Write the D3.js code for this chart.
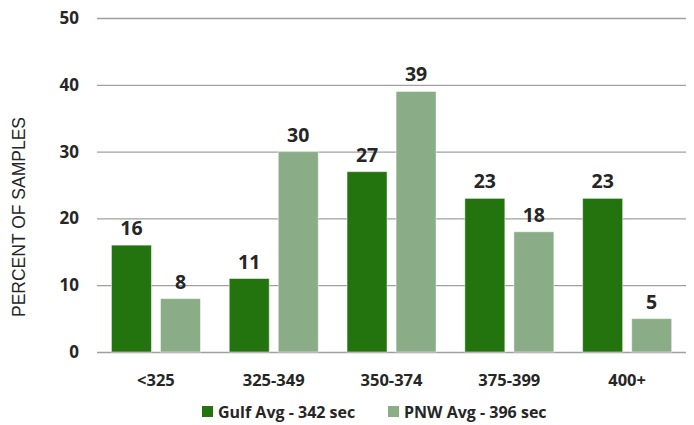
<!DOCTYPE html>
<html><head><meta charset="utf-8">
<script src="https://cdn.jsdelivr.net/npm/d3@7"></script>
<style>body{margin:0;background:#fff;} svg text{font-family:"Open Sans",sans-serif;} svg text.ytitle{font-family:"Liberation Sans",Arial,sans-serif;}</style>
</head><body><svg id="c" width="694" height="425"></svg>
<script>
const categories = ["<325","325-349","350-374","375-399","400+"];
const seriesNames = ["Gulf Avg - 342 sec","PNW Avg - 396 sec"];
const gulf = [16,11,27,23,23];
const pnw = [8,30,39,18,5];
const yTicks = [0,10,20,30,40,50];
const colors = ["#23730f","#8aad88"];

const svg = d3.select("#c");
const L=97,R=686,T=18,B=352;
const x = d3.scaleBand().domain(categories).range([L,R]).paddingInner(0).paddingOuter(0);
const y = d3.scaleLinear().domain([0,50]).range([B,T]);
const bw = x.bandwidth();
const inner = d3.scaleBand().domain([0,1]).range([bw*0.1225,bw*0.8785]).paddingInner(0.1837).paddingOuter(0);

// gridlines
svg.append("g").selectAll("line").data(yTicks).join("line")
 .attr("x1",L).attr("x2",R).attr("y1",d=>y(d)+0.5).attr("y2",d=>y(d)+0.5)
 .attr("stroke","#a0a0a0").attr("stroke-width",1.3);

// y axis labels
const yAxis = d3.axisLeft(y).tickValues(yTicks).tickSize(0).tickPadding(18);
const ya = svg.append("g").attr("transform",`translate(${L},0)`).call(yAxis);
ya.select(".domain").remove();
ya.selectAll("text").attr("font-size",17).attr("font-weight","bold").attr("fill","#262626");

// x axis labels
const xAxis = d3.axisBottom(x).tickSize(0).tickPadding(22);
const xa = svg.append("g").attr("transform",`translate(0,${B})`).call(xAxis);
xa.select(".domain").remove();
xa.selectAll("text").attr("font-size",16.5).attr("font-weight","bold").attr("fill","#262626");

const series=[gulf,pnw];
series.forEach((vals,si)=>{
  const g=svg.append("g");
  g.selectAll("rect").data(vals).join("rect")
   .attr("x",(d,i)=>x(categories[i])+inner(si))
   .attr("width",inner.bandwidth())
   .attr("y",d=>y(d)).attr("height",d=>B-y(d))
   .attr("fill",colors[si]).attr("stroke","#ffffff").attr("stroke-opacity",0.5).attr("stroke-width",1);
  g.selectAll("text").data(vals).join("text")
   .attr("x",(d,i)=>x(categories[i])+inner(si)+inner.bandwidth()/2)
   .attr("y",d=>y(d)-10)
   .attr("text-anchor","middle").attr("font-size",19.5).attr("font-weight","bold").attr("fill","#262626")
   .text(d=>d);
});

// y title
svg.append("text").attr("class","ytitle").attr("transform","translate(25,217) rotate(-90)").attr("text-anchor","middle")
 .attr("font-size",17.5).attr("fill","#262626").text("PERCENT OF SAMPLES");

// legend
const legX=[202,388];
seriesNames.forEach((n,i)=>{
  svg.append("rect").attr("x",legX[i]).attr("y",406).attr("width",11).attr("height",11).attr("fill",colors[i]);
  svg.append("text").attr("x",legX[i]+16).attr("y",418).attr("font-size",16).attr("font-weight","bold").attr("fill","#262626").text(n);
});
</script></body></html>
